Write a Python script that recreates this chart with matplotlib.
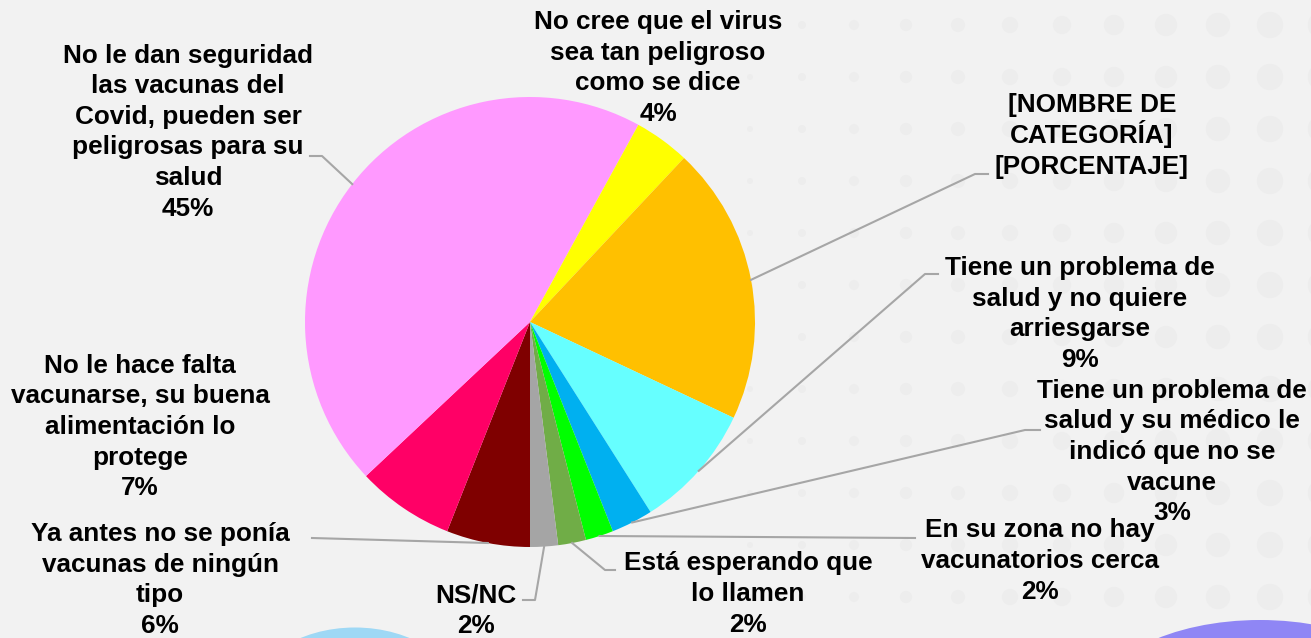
import numpy as np
import matplotlib.pyplot as plt
from matplotlib.patches import Ellipse, Circle

W, H = 1311, 638

labels = [
    "Ya antes no se ponía\nvacunas de ningún\ntipo",
    "No le hace falta\nvacunarse, su buena\nalimentación lo\nprotege",
    "No le dan seguridad\nlas vacunas del\nCovid, pueden ser\npeligrosas para su\nsalud",
    "No cree que el virus\nsea tan peligroso\ncomo se dice",
    "[NOMBRE DE\nCATEGORÍA]",
    "Tiene un problema de\nsalud y no quiere\narriesgarse",
    "Tiene un problema de\nsalud y su médico le\nindicó que no se\nvacune",
    "En su zona no hay\nvacunatorios cerca",
    "Está esperando que\nlo llamen",
    "NS/NC",
]
values = [6, 7, 45, 4, 20, 9, 3, 2, 2, 2]
pct_text = ["6%", "7%", "45%", "4%", "[PORCENTAJE]", "9%", "3%", "2%", "2%", "2%"]
colors = ["#7F0000", "#FF0066", "#FF99FF", "#FFFF00", "#FFC000",
          "#66FFFF", "#00B0F0", "#00FF00", "#70AD47", "#A5A5A5"]

# label block centres and leader elbows in pixel coords (y down)
label_pos = [(160, 579), (140, 426), (188, 131), (658, 67), (1092, 135),
             (1080, 313), (1172, 451), (1040, 560), (748, 593), (476, 610)]
elbows = [[(312, 538)], None, [(322, 156), (310, 156)], None,
          [(975, 174), (988, 174)], [(925, 274), (938, 274)],
          [(1025, 430), (1040, 430)], [(915, 538)],
          [(605, 570), (615, 570)], [(535, 600), (523, 600)]]
line_step = 30.6


def Y(y):
    return H - y


fig = plt.figure(figsize=(W / 100, H / 100), dpi=100)
fig.patch.set_facecolor("#F2F2F2")
ax = fig.add_axes([0, 0, 1, 1])
ax.set_xlim(0, W)
ax.set_ylim(0, H)
ax.set_aspect("equal")
ax.axis("off")

# faint dotted background on the right
for gx in np.arange(750, W + 30, 52):
    for gy in np.arange(25, H, 52):
        r = 3 + 11 * (gx - 750) / (W - 750)
        ax.add_patch(Circle((gx, Y(gy)), r, color="#EDEDED", zorder=0, lw=0))

ax.add_patch(Ellipse((355, Y(700)), 210, 145, color="#9ED8F5", zorder=1, lw=0))
ax.add_patch(Ellipse((1260, Y(705)), 330, 170, color="#8F86F5", zorder=1, lw=0))

cx, cy, R = 530, Y(322), 225
wedges, _ = ax.pie(values, colors=colors, startangle=270, counterclock=False,
                   center=(cx, cy), radius=R, frame=True,
                   wedgeprops=dict(linewidth=0, zorder=3))
ax.set_xlim(0, W)
ax.set_ylim(0, H)
ax.axis("off")

for i, w in enumerate(wedges):
    tx, ty = label_pos[i]
    lines = (labels[i] + "\n" + pct_text[i]).split("\n")
    n = len(lines)
    for j, line in enumerate(lines):
        ly = ty + (j - (n - 1) / 2) * line_step
        ax.text(tx, Y(ly + 8), line, ha="center", va="baseline",
                fontsize=18.8, fontweight="bold", family="Liberation Sans",
                color="black", zorder=5)
    if elbows[i] is not None:
        mid = np.deg2rad((w.theta1 + w.theta2) / 2)
        xs = [cx + R * np.cos(mid)] + [p[0] for p in elbows[i]]
        ys = [cy + R * np.sin(mid)] + [Y(p[1]) for p in elbows[i]]
        ax.plot(xs, ys, color="#A6A6A6", lw=1.5, zorder=4)

fig.savefig("out.png", dpi=100, facecolor=fig.get_facecolor())
